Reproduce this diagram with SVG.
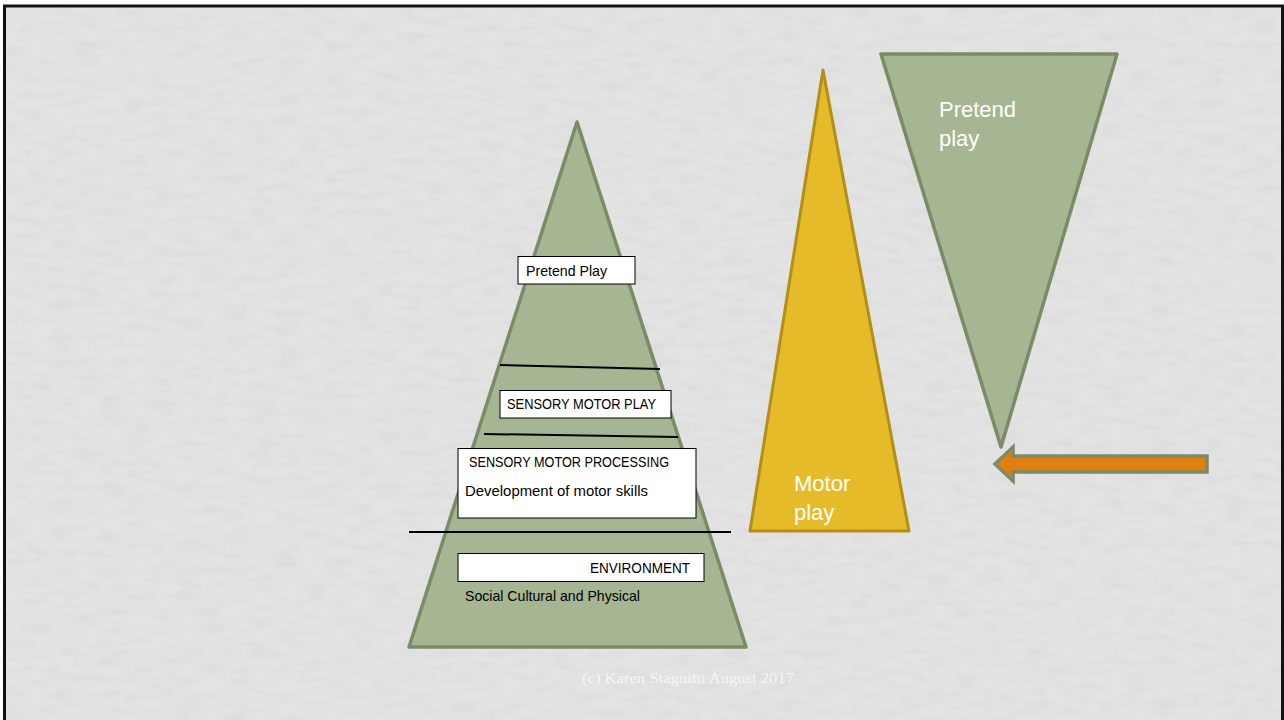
<svg xmlns="http://www.w3.org/2000/svg" width="1284" height="720" viewBox="0 0 1284 720">
<defs>
<style>
.green{fill:#a6b592;stroke:#7b8b67;stroke-width:3.5;stroke-linejoin:round}
.yellow{fill:#e6bb29;stroke:#b38f16;stroke-width:3;stroke-linejoin:round}
.box{fill:#ffffff;stroke:#000000;stroke-width:1}
.lbl{font-family:"Liberation Sans",Arial,sans-serif;font-size:14.5px;fill:#000000}
.big{font-family:"Liberation Sans",Arial,sans-serif;font-size:22px;fill:#ffffff}
.divider{stroke:#000000;stroke-width:2;fill:none}
</style>
<filter id="tex" x="0" y="0" width="100%" height="100%">
<feTurbulence type="fractalNoise" baseFrequency="0.04 0.12" numOctaves="3" seed="3" result="n"/>
<feColorMatrix in="n" type="matrix" values="0 0 0 0 0.55  0 0 0 0 0.55  0 0 0 0 0.55  0 0 0 -1.2 0.75" result="m"/>
<feComposite in="m" in2="SourceGraphic" operator="in"/>
</filter>
</defs>
<rect x="0" y="0" width="1284" height="720" fill="#ffffff"/>
<rect id="background" x="4.5" y="6" width="1278" height="720" fill="#e3e3e3" stroke="#111111" stroke-width="3"/>
<rect x="6" y="7.5" width="1275" height="713" fill="#e3e3e3" filter="url(#tex)" opacity="0.35"/>

<g id="pyramid">
<polygon class="green" points="577,122 746,647 409,647"/>
</g>

<g id="connectors">
<line class="divider" x1="500" y1="365" x2="660" y2="369"/>
<line class="divider" x1="484" y1="434" x2="678" y2="437"/>
<line class="divider" x1="409" y1="532" x2="731" y2="532"/>
<polygon id="arrow" points="995,464 1013,447 1013,456 1207,456 1207,472 1013,472 1013,481" fill="#e07f10" stroke="#7b8b67" stroke-width="3.5" stroke-linejoin="miter"/>
</g>

<g id="pretend-play-box">
<rect class="box" x="518" y="256.5" width="117" height="27.5"/>
<text class="lbl" x="526" y="276" textLength="81" lengthAdjust="spacingAndGlyphs">Pretend Play</text>
</g>

<g id="sensory-motor-play-box">
<rect class="box" x="500" y="390.5" width="171" height="27.5"/>
<text class="lbl" x="507" y="409" textLength="149" lengthAdjust="spacingAndGlyphs">SENSORY MOTOR PLAY</text>
</g>

<g id="sensory-motor-processing-box">
<rect class="box" x="458" y="448.5" width="238" height="69.5"/>
<text class="lbl" x="469" y="467" textLength="200" lengthAdjust="spacingAndGlyphs">SENSORY MOTOR PROCESSING</text>
<text class="lbl" x="465" y="496" textLength="183" lengthAdjust="spacingAndGlyphs">Development of motor skills</text>
</g>

<g id="environment-box">
<rect class="box" x="458" y="553.5" width="246" height="28"/>
<text class="lbl" x="590" y="573" textLength="100" lengthAdjust="spacingAndGlyphs">ENVIRONMENT</text>
<text class="lbl" x="465" y="601" textLength="175" lengthAdjust="spacingAndGlyphs">Social Cultural and Physical</text>
</g>

<g id="motor-play">
<polygon class="yellow" points="823,70 909,531 750,531"/>
<text class="big" x="794" y="491">Motor</text>
<text class="big" x="794" y="520">play</text>
</g>

<g id="pretend-play">
<polygon class="green" points="881,54 1117,54 1001,447"/>
<text class="big" x="939" y="117">Pretend</text>
<text class="big" x="939" y="146">play</text>
</g>

<g id="footer">
<text x="582" y="683" font-family="'Liberation Serif','Times New Roman',serif" font-size="14.5px" fill="#f6f6f6" textLength="212" lengthAdjust="spacingAndGlyphs">(c) Karen Stagnitti August 2017</text>
</g>
</svg>
